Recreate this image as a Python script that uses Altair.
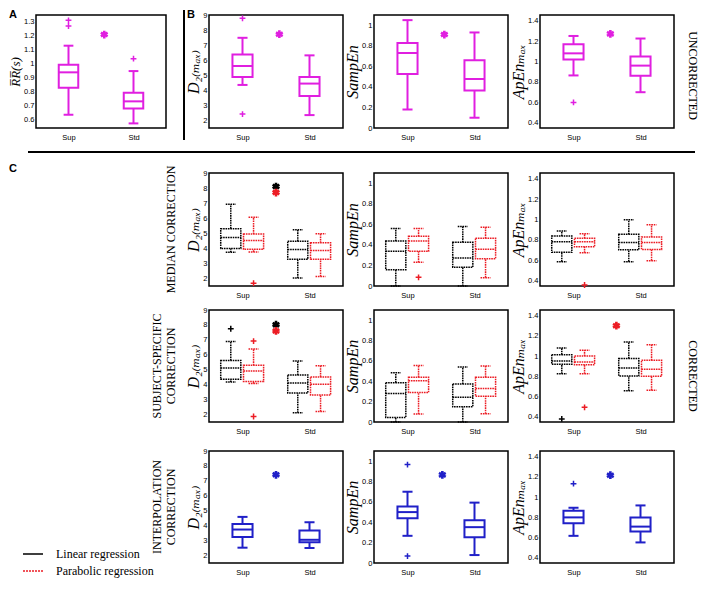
import altair as alt
import pandas as pd

GROUPS = ["Sup", "Std"]
GROUP_X = [1.0, 2.0]
METHODS = ["Linear regression", "Parabolic regression"]
# box statistics order: [lower whisker, q1, median, q3, upper whisker]

# ---------------- UNCORRECTED (A, B) ----------------
UNC_RR = {"Sup": [0.635, 0.829, 0.939, 0.994, 1.13], "Std": [0.573, 0.68, 0.731, 0.793, 0.948]}
UNC_RR_OUT = {"Sup": [1.271, 1.312], "Std": [1.037]}
UNC_RR_STAR = 1.21
UNC_D2 = {"Sup": [4.34, 4.87, 5.60, 6.37, 7.48], "Std": [2.33, 3.61, 4.43, 4.87, 6.31]}
UNC_D2_OUT = {"Sup": [8.78, 2.40], "Std": []}
UNC_D2_STAR = 7.72
UNC_SE = {"Sup": [0.18, 0.526, 0.73, 0.828, 1.05], "Std": [0.10, 0.364, 0.477, 0.66, 0.93]}
UNC_SE_OUT = {"Sup": [], "Std": []}
UNC_SE_STAR = 0.91
UNC_AE = {"Sup": [0.864, 1.02, 1.08, 1.17, 1.25], "Std": [0.70, 0.86, 0.96, 1.05, 1.225]}
UNC_AE_OUT = {"Sup": [0.60], "Std": []}
UNC_AE_STAR = 1.27

# ---------------- MEDIAN CORRECTION ----------------
MED_D2_LIN = {"Sup": [3.72, 3.97, 4.70, 5.29, 6.92], "Std": [2.0, 3.25, 3.90, 4.46, 5.22]}
MED_D2_LIN_OUT = {"Sup": [], "Std": []}
MED_D2_PAR = {"Sup": [3.74, 3.92, 4.50, 4.93, 6.05], "Std": [2.11, 3.25, 3.83, 4.35, 4.95]}
MED_D2_PAR_OUT = {"Sup": [1.66], "Std": []}
MED_D2_STARS = [8.1, 7.7]
MED_SE_LIN = {"Sup": [0.0, 0.159, 0.338, 0.438, 0.56], "Std": [0.0, 0.182, 0.273, 0.425, 0.58]}
MED_SE_LIN_OUT = {"Sup": [], "Std": []}
MED_SE_PAR = {"Sup": [0.23, 0.338, 0.438, 0.484, 0.56], "Std": [0.081, 0.266, 0.357, 0.464, 0.571]}
MED_SE_PAR_OUT = {"Sup": [0.084], "Std": []}
MED_AE_LIN = {"Sup": [0.588, 0.68, 0.783, 0.839, 0.888], "Std": [0.588, 0.704, 0.776, 0.855, 0.997]}
MED_AE_LIN_OUT = {"Sup": [], "Std": []}
MED_AE_PAR = {"Sup": [0.674, 0.733, 0.783, 0.816, 0.862], "Std": [0.598, 0.707, 0.776, 0.829, 0.948]}
MED_AE_PAR_OUT = {"Sup": [0.36], "Std": []}

# ---------------- SUBJECT-SPECIFIC CORRECTION ----------------
SS_D2_LIN = {"Sup": [4.16, 4.34, 5.10, 5.61, 6.89], "Std": [2.09, 3.42, 4.09, 4.63, 5.57]}
SS_D2_LIN_OUT = {"Sup": [7.74], "Std": []}
SS_D2_PAR = {"Sup": [4.06, 4.20, 4.90, 5.28, 6.38], "Std": [2.18, 3.29, 4.01, 4.50, 5.26]}
SS_D2_PAR_OUT = {"Sup": [6.91, 1.84], "Std": []}
SS_D2_STARS = [8.01, 7.59]
SS_SE_LIN = {"Sup": [0.0, 0.045, 0.28, 0.386, 0.484], "Std": [0.0, 0.15, 0.244, 0.373, 0.539]}
SS_SE_LIN_OUT = {"Sup": [], "Std": []}
SS_SE_PAR = {"Sup": [0.078, 0.29, 0.405, 0.44, 0.555], "Std": [0.081, 0.253, 0.328, 0.44, 0.549]}
SS_SE_PAR_OUT = {"Sup": [], "Std": []}
SS_AE_LIN = {"Sup": [0.825, 0.92, 0.952, 1.014, 1.08], "Std": [0.658, 0.805, 0.884, 0.976, 1.139]}
SS_AE_LIN_OUT = {"Sup": [0.38], "Std": []}
SS_AE_PAR = {"Sup": [0.825, 0.916, 0.942, 1.0, 1.057], "Std": [0.664, 0.802, 0.871, 0.958, 1.112]}
SS_AE_PAR_OUT = {"Sup": [0.495], "Std": []}
SS_AE_STAR_PAR = 1.30

# ---------------- INTERPOLATION CORRECTION ----------------
INT_D2 = {"Sup": [2.50, 3.21, 3.72, 4.10, 4.57], "Std": [2.48, 2.87, 3.03, 3.66, 4.21]}
INT_D2_OUT = {"Sup": [], "Std": []}
INT_D2_STAR = 7.40
INT_SE = {"Sup": [0.267, 0.44, 0.50, 0.554, 0.70], "Std": [0.078, 0.254, 0.352, 0.42, 0.593]}
INT_SE_OUT = {"Sup": [0.967, 0.068], "Std": []}
INT_SE_STAR = 0.866
INT_AE = {"Sup": [0.618, 0.742, 0.80, 0.866, 0.895], "Std": [0.553, 0.66, 0.709, 0.80, 0.918]}
INT_AE_OUT = {"Sup": [1.133], "Std": []}
INT_AE_STAR = 1.216

# ---------------- axes ----------------
RR_TICKS = [0.6, 0.7, 0.8, 0.9, 1, 1.1, 1.2, 1.3]
D2_TICKS = [2, 3, 4, 5, 6, 7, 8, 9]
SE_TICKS = [0, 0.2, 0.4, 0.6, 0.8, 1]
AE_TICKS = [0.4, 0.6, 0.8, 1, 1.2, 1.4]
RR_DOM = [0.54, 1.35]
D2_DOM = [1.47, 9]
SE_DOM = [0, 1.1]
AE_DOM = [0.35, 1.455]
RR_TITLE = "R\u0305R\u0305(s)"
D2_TITLE = "D\u2082\u208d\u2098\u2090\u2093\u208e"
SE_TITLE = "SampEn"
AE_TITLE = "ApEn\u2098\u2090\u2093"

ROW_LABELS = [["MEDIAN CORRECTION"], ["SUBJECT-SPECIFIC", "CORRECTION"], ["INTERPOLATION", "CORRECTION"]]
LEGEND_LABELS = ["Linear regression", "Parabolic regression"]

MAGENTA = "#e01fe0"
BLACK = "#000000"
RED = "#ec1c24"
BLUE = "#2020c8"
LEGEND_COLORS = [BLACK, RED]
SANS = "Liberation Sans"
SERIF = "Liberation Serif, DejaVu Serif"
PLUS = "M-1,0L1,0M0,-1L0,1"
STAR = "M0,-1L0,1M-0.87,-0.5L0.87,0.5M-0.87,0.5L0.87,-0.5"
DOT = [1.6, 0.8]
BOX_HALF = 0.15
CAP_HALF = 0.075
XS = alt.Scale(domain=[0.5, 2.5], nice=False, zero=False)

# grid layout (flush): column widths and row heights in pixels, gaps are empty cells
COL_W = [27, 130, 43, 134, 31, 134, 32, 134]
ROW_H = [113, 45, 113, 24, 112, 29, 112]


def x_axis():
    return alt.Axis(values=[1, 2], labelExpr="datum.value == 1 ? 'Sup' : 'Std'", title=None,
                    ticks=False, domain=False, grid=False, labelFont=SANS, labelFontSize=7.5,
                    labelColor="black", labelPadding=5, labelFlush=False, labelOverlap=False)


def y_axis(ticks, title, tsize=16):
    return alt.Axis(values=ticks, format="~g", title=title, ticks=False, domain=False, grid=False,
                    labelFont=SANS, labelFontSize=7.5, labelColor="black", labelPadding=2,
                    labelOverlap=False, titleFont=SERIF, titleFontStyle="italic",
                    titleFontWeight="normal", titleFontSize=tsize, titleColor="black", titlePadding=1)


def stats_frame(stats, offset):
    rows = []
    for g, gx in zip(GROUPS, GROUP_X):
        lo, q1, md, q3, hi = stats[g]
        x = gx + offset
        rows.append(dict(group=g, x=x, bl=x - BOX_HALF, br=x + BOX_HALF, cl=x - CAP_HALF,
                         cr=x + CAP_HALF, low=lo, q1=q1, med=md, q3=q3, high=hi))
    return pd.DataFrame(rows)


def series(stats, outliers, color, offset=0.0, width=2.0, dash=None):
    return dict(stats=stats, out=outliers, color=color, offset=offset, width=width, dash=dash)


def panel(series_list, stars, ydom, yticks, ytitle, width=134, height=113, title=None, extra=None,
          tsize=16):
    ys = alt.Scale(domain=ydom, nice=False, zero=False)

    def X(f):
        return alt.X(f, type="quantitative", scale=XS, axis=x_axis())

    def Y(f):
        return alt.Y(f, type="quantitative", scale=ys, axis=y_axis(yticks, ytitle, tsize))

    layers = []
    for s in series_list:
        df = stats_frame(s["stats"], s["offset"])
        base = alt.Chart(df)
        style = dict(color=s["color"], strokeWidth=s["width"])
        if s["dash"]:
            style["strokeDash"] = s["dash"]
        layers.append(base.mark_rule(**style).encode(x=X("x"), y=Y("low"), y2="q1"))
        layers.append(base.mark_rule(**style).encode(x=X("x"), y=Y("q3"), y2="high"))
        layers.append(base.mark_rule(**style).encode(x=X("cl"), x2="cr", y=Y("low")))
        layers.append(base.mark_rule(**style).encode(x=X("cl"), x2="cr", y=Y("high")))
        rect_style = dict(stroke=s["color"], strokeWidth=s["width"], fillOpacity=0)
        if s["dash"]:
            rect_style["strokeDash"] = s["dash"]
        layers.append(base.mark_rect(**rect_style).encode(x=X("bl"), x2="br", y=Y("q1"), y2="q3"))
        layers.append(base.mark_rule(**style).encode(x=X("bl"), x2="br", y=Y("med")))
        orows = []
        for g, gx in zip(GROUPS, GROUP_X):
            for v in s["out"][g]:
                orows.append(dict(x=gx + s["offset"], y=v))
        if orows:
            layers.append(alt.Chart(pd.DataFrame(orows)).mark_point(
                shape=PLUS, filled=False, size=34, strokeWidth=1.5, color=s["color"], opacity=1
            ).encode(x=X("x"), y=Y("y")))
    for (sx, sy, sc) in stars:
        layers.append(alt.Chart(pd.DataFrame([dict(x=sx, y=sy)])).mark_point(
            shape=STAR, filled=False, size=60, strokeWidth=2.6, color=sc, opacity=1
        ).encode(x=X("x"), y=Y("y")))
    if extra:
        layers.extend(extra)
    props = dict(width=width, height=height)
    if title is not None:
        props["title"] = title
    return alt.layer(*layers).properties(**props)


def letter(txt, x, y):
    return alt.Chart(pd.DataFrame({"t": [txt]})).mark_text(
        align="left", baseline="top", font=SANS, fontSize=11, fontWeight="bold", color="black"
    ).encode(x=alt.value(x), y=alt.value(y), text="t:N")


def row_title(lines):
    return alt.TitleParams(text=lines, orient="left", anchor="middle", font=SERIF, fontSize=12,
                           fontWeight="normal", color="black", offset=8, lineHeight=14)


def side_title(txt, dx):
    return alt.TitleParams(text=txt, orient="right", anchor="middle", font=SERIF, fontSize=12,
                           fontWeight="normal", color="black", offset=12, dx=dx)


dummy = pd.DataFrame({"v": [0]})


def spacer(w, h, extra=None):
    base = alt.Chart(dummy).mark_text(text="", opacity=0).encode(x=alt.value(0), y=alt.value(0))
    view = alt.ViewBackground(stroke="transparent")
    if extra:
        return alt.layer(base, *extra).properties(width=w, height=h, view=view)
    return base.properties(width=w, height=h, view=view)


sep_v = alt.Chart(dummy).mark_rule(color="black", strokeWidth=2).encode(
    x=alt.value(148), y=alt.value(-5), y2=alt.value(125))
sep_h = alt.Chart(dummy).mark_rule(color="black", strokeWidth=2).encode(
    x=alt.value(-8), x2=alt.value(659), y=alt.value(137))

# ---- row 0 : uncorrected ----
pA = panel([series(UNC_RR, UNC_RR_OUT, MAGENTA)], [(1.55, UNC_RR_STAR, MAGENTA)], RR_DOM, RR_TICKS,
           RR_TITLE, width=COL_W[1], extra=[sep_v, sep_h], tsize=13)
pB1 = panel([series(UNC_D2, UNC_D2_OUT, MAGENTA)], [(1.55, UNC_D2_STAR, MAGENTA)], D2_DOM, D2_TICKS,
            D2_TITLE, extra=[letter("B", -22, -6)])
pB2 = panel([series(UNC_SE, UNC_SE_OUT, MAGENTA)], [(1.55, UNC_SE_STAR, MAGENTA)], SE_DOM, SE_TICKS,
            SE_TITLE)
pB3 = panel([series(UNC_AE, UNC_AE_OUT, MAGENTA)], [(1.55, UNC_AE_STAR, MAGENTA)], AE_DOM, AE_TICKS,
            AE_TITLE, title=side_title("UNCORRECTED", 4))

LO, PO = -0.175, 0.165


def pair(lin, lin_out, par, par_out):
    return [series(lin, lin_out, BLACK, LO, 1.5, DOT), series(par, par_out, RED, PO, 1.5, DOT)]


# ---- row 1 : median correction ----
r1p1 = panel(pair(MED_D2_LIN, MED_D2_LIN_OUT, MED_D2_PAR, MED_D2_PAR_OUT),
             [(1.5, MED_D2_STARS[0], BLACK), (1.5, MED_D2_STARS[1], RED)], D2_DOM, D2_TICKS, D2_TITLE,
             height=ROW_H[2], title=row_title(ROW_LABELS[0]))
r1p2 = panel(pair(MED_SE_LIN, MED_SE_LIN_OUT, MED_SE_PAR, MED_SE_PAR_OUT), [], SE_DOM, SE_TICKS, SE_TITLE,
             height=ROW_H[2])
r1p3 = panel(pair(MED_AE_LIN, MED_AE_LIN_OUT, MED_AE_PAR, MED_AE_PAR_OUT), [], AE_DOM, AE_TICKS, AE_TITLE,
             height=ROW_H[2])

# ---- row 2 : subject-specific correction ----
r2p1 = panel(pair(SS_D2_LIN, SS_D2_LIN_OUT, SS_D2_PAR, SS_D2_PAR_OUT),
             [(1.5, SS_D2_STARS[0], BLACK), (1.5, SS_D2_STARS[1], RED)], D2_DOM, D2_TICKS, D2_TITLE,
             height=ROW_H[4], title=row_title(ROW_LABELS[1]))
r2p2 = panel(pair(SS_SE_LIN, SS_SE_LIN_OUT, SS_SE_PAR, SS_SE_PAR_OUT), [], SE_DOM, SE_TICKS, SE_TITLE,
             height=ROW_H[4])
r2p3 = panel(pair(SS_AE_LIN, SS_AE_LIN_OUT, SS_AE_PAR, SS_AE_PAR_OUT),
             [(1.64, SS_AE_STAR_PAR, RED)], AE_DOM, AE_TICKS, AE_TITLE, height=ROW_H[4],
             title=side_title("CORRECTED", 10))

# ---- row 3 : interpolation correction ----
r3p1 = panel([series(INT_D2, INT_D2_OUT, BLUE)], [(1.5, INT_D2_STAR, BLUE)], D2_DOM, D2_TICKS, D2_TITLE,
             height=ROW_H[6], title=row_title(ROW_LABELS[2]))
r3p2 = panel([series(INT_SE, INT_SE_OUT, BLUE)], [(1.52, INT_SE_STAR, BLUE)], SE_DOM, SE_TICKS, SE_TITLE,
             height=ROW_H[6])
r3p3 = panel([series(INT_AE, INT_AE_OUT, BLUE)], [(1.55, INT_AE_STAR, BLUE)], AE_DOM, AE_TICKS, AE_TITLE,
             height=ROW_H[6])

# legend (bottom-left)
leg_df = pd.DataFrame({"label": LEGEND_LABELS})
leg_y = alt.Y("label:N", scale=alt.Scale(type="point", domain=LEGEND_LABELS, range=[103, 120], padding=0),
              axis=None)
leg_rule = alt.Chart(leg_df).mark_rule(strokeWidth=1.5).encode(
    x=alt.value(14), x2=alt.value(34), y=leg_y,
    color=alt.Color("label:N", scale=alt.Scale(domain=LEGEND_LABELS, range=LEGEND_COLORS), legend=None),
    strokeDash=alt.StrokeDash("label:N", scale=alt.Scale(domain=LEGEND_LABELS, range=[[1, 0], [2, 1]]),
                              legend=None))
leg_text = alt.Chart(leg_df).mark_text(align="left", baseline="middle", font=SERIF, fontSize=12,
                                       color="black").encode(x=alt.value(47), y=leg_y, text="label:N")

cells = {
    (0, 0): spacer(COL_W[0], ROW_H[0], [letter("A", 0, -6)]),
    (0, 1): pA, (0, 3): pB1, (0, 5): pB2, (0, 7): pB3,
    (2, 0): spacer(COL_W[0], ROW_H[2], [letter("C", 0, -10)]),
    (2, 3): r1p1, (2, 5): r1p2, (2, 7): r1p3,
    (4, 3): r2p1, (4, 5): r2p2, (4, 7): r2p3,
    (6, 0): spacer(COL_W[0], ROW_H[6], [leg_rule, leg_text]),
    (6, 3): r3p1, (6, 5): r3p2, (6, 7): r3p3,
}

grid = []
for r, h in enumerate(ROW_H):
    for c, w in enumerate(COL_W):
        grid.append(cells.get((r, c), spacer(w, h)))

chart = alt.concat(*grid, columns=len(COL_W), spacing=0, bounds="flush", align="each").properties(
    padding=0).configure_view(stroke="black", strokeWidth=1.5)

chart.save("out.html", embed_options={"renderer": "svg", "actions": False})
